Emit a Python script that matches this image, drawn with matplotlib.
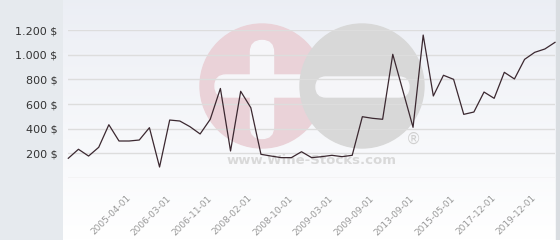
import matplotlib
matplotlib.use("Agg")
import matplotlib.pyplot as plt
import matplotlib.transforms as mtr
import numpy as np
from matplotlib.patches import Circle, FancyBboxPatch

# price history (USD), one value per observation
prices = [160, 233, 178, 249, 432, 300, 300, 308, 408, 89,
          470, 462, 416, 357, 476, 726, 219, 703, 570, 192,
          178, 165, 165, 213, 165, 173, 184, 173, 184, 497,
          484, 476, 1003, 707, 411, 1159, 665, 833, 800, 516,
          535, 697, 646, 857, 803, 962, 1019, 1046, 1100]

tick_idx = [6, 10, 14, 18, 22, 26, 30, 34, 38, 42, 46]
tick_labels = ["2005-04-01", "2006-03-01", "2006-11-01", "2008-02-01", "2008-10-01",
               "2009-03-01", "2009-09-01", "2013-09-01", "2015-05-01", "2017-12-01",
               "2019-12-01"]
y_ticks = [200, 400, 600, 800, 1000, 1200]

W, H = 560, 240
fig = plt.figure(figsize=(W / 100, H / 100), dpi=100)
fig.patch.set_facecolor("#e6eaee")

# background panel with gradient + watermark, drawn in pixel coords
bg = fig.add_axes([0, 0, 1, 1], zorder=0)
bg.set_xlim(0, W)
bg.set_ylim(H, 0)
bg.axis("off")
grad = np.linspace(0, 1, 100).reshape(-1, 1)
top = np.array([0.925, 0.935, 0.96])
bot = np.array([1.0, 1.0, 1.0])
img = top + (bot - top) * grad[:, :, None]
bg.imshow(img, extent=[63, 556, H, 0], aspect="auto", zorder=0)
bg.add_patch(plt.Rectangle((556, 0), 4, H, color="#d9dde1", zorder=0))

bar_col = "#f6f6f9"
bg.add_patch(Circle((262, 86), 62, color="#ead2d8", zorder=1))
bg.add_patch(Circle((362, 86), 62, color="#d8d8d8", zorder=2))
# plus sign
bg.add_patch(FancyBboxPatch((262, 52), 0, 75, boxstyle="round,pad=11.5",
                            color=bar_col, zorder=1.5))
bg.add_patch(FancyBboxPatch((226, 86), 73, 0, boxstyle="round,pad=11",
                            color=bar_col, zorder=1.5))
# minus sign
bg.add_patch(FancyBboxPatch((326, 87), 73, 0, boxstyle="round,pad=10",
                            color=bar_col, zorder=3))
bg.text(413, 139, "®", fontsize=11, color="#d0d0d0", ha="center", va="center", zorder=3)
bg.text(312, 161, "www.Wine-Stocks.com", fontsize=9.5, fontweight="bold",
        color="#d9d9d9", ha="center", va="center", zorder=3)

# main chart
x0, x1 = 68.3, 555
y0, y1 = 178, 30
ax = fig.add_axes([x0 / W, 1 - y0 / H, (x1 - x0) / W, (y0 - y1) / H], zorder=1)
ax.set_facecolor("none")
ax.plot(range(len(prices)), prices, color="#3b2830", lw=0.9, clip_on=False)
ax.set_xlim(0, len(prices) - 1)
ax.set_ylim(0, 1200)

ax.set_yticks([0] + y_ticks)
ax.set_yticklabels([""] + [f"{v:,} $".replace(",", ".") for v in y_ticks],
                   fontsize=8, color="#333333")
ax.yaxis.grid(True, color="#dddddd", lw=1)
ax.set_axisbelow(True)
ax.set_xticks(tick_idx)
ax.set_xticklabels(tick_labels, rotation=45, ha="right", va="center",
                   rotation_mode="anchor", fontsize=6.5, color="#999999")
shift = mtr.ScaledTranslation(-2 / 100, 0, fig.dpi_scale_trans)
for lab in ax.get_xticklabels():
    lab.set_transform(lab.get_transform() + shift)
ax.tick_params(axis="both", length=0)
ax.tick_params(axis="y", pad=8)
ax.tick_params(axis="x", pad=13.5)
for s in ax.spines.values():
    s.set_visible(False)

plt.savefig("out.png", dpi=100)
